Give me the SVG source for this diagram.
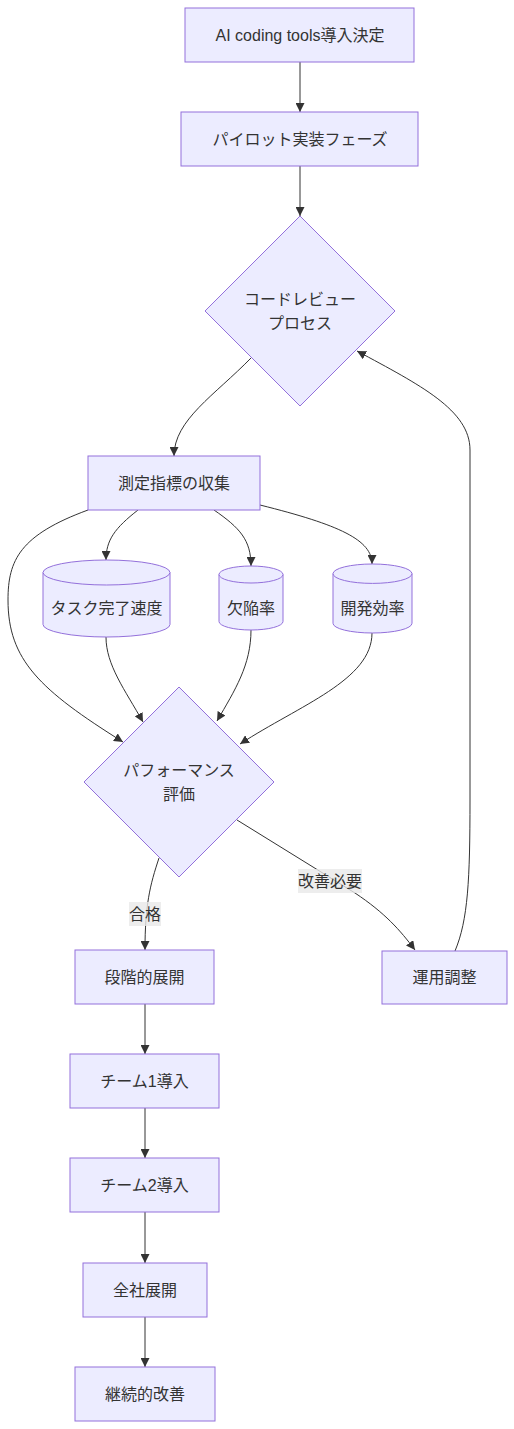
<svg xmlns="http://www.w3.org/2000/svg" width="514" height="1429" viewBox="0 0 514 1429">
<style>
.n{fill:#ECECFF;stroke:#9370DB;stroke-width:1}
.t{font-family:"Liberation Sans","Noto Sans CJK JP",sans-serif;font-size:16px;fill:#333;text-anchor:middle;dominant-baseline:central}
.e{fill:none;stroke:#333;stroke-width:1}
.lb{fill:#e8e8e8;opacity:0.8}
</style>
<defs>
<marker id="ah" viewBox="0 0 10 10" refX="10" refY="5" markerWidth="9" markerHeight="9" markerUnits="userSpaceOnUse" orient="auto">
<path d="M0,0 L10,5 L0,10 z" fill="#333"/>
</marker>
</defs>
<rect width="514" height="1429" fill="#fff"/>
<g id="edges" marker-end="url(#ah)">
<path class="e" d="M300,62 L300,112"/>
<path class="e" d="M300,166 L300,216"/>
<path class="e" d="M251,358 C215,395 174,420 174,456"/>
<path class="e" d="M138,510 C115,528 106,540 106,560"/>
<path class="e" d="M214,510 C240,528 251,540 251,566"/>
<path class="e" d="M260,505 C340,525 372,540 372,564"/>
<path class="e" d="M88,510 C20,535 8,560 8,600 C8,660 40,690 123,742"/>
<path class="e" d="M106,637 C106,665 125,690 143,722"/>
<path class="e" d="M251,630 C251,665 235,690 217,721"/>
<path class="e" d="M372,633 C372,680 300,705 240,744"/>
<path class="e" d="M159,858 C150,885 145,905 145,950"/>
<path class="e" d="M237,820 L355,893 C385,913 400,930 415,950"/>
<path class="e" d="M455,951 C468,920 470,880 470,800 L470,450 C470,410 420,385 357,351"/>
<path class="e" d="M145,1004 L145,1054"/>
<path class="e" d="M145,1108 L145,1158"/>
<path class="e" d="M145,1212 L145,1263"/>
<path class="e" d="M145,1317 L145,1367"/>
</g>
<g id="edge-labels">
<rect class="lb" x="129" y="902" width="32" height="24"/>
<text class="t" x="145" y="914">合格</text>
<rect class="lb" x="298" y="869" width="64" height="24"/>
<text class="t" x="330" y="881">改善必要</text>
</g>
<g id="n1"><rect class="n" x="185" y="8" width="229" height="54"/><text class="t" x="300" y="35">AI coding tools導入決定</text></g>
<g id="n2"><rect class="n" x="181" y="112" width="237" height="54"/><text class="t" x="300" y="139">パイロット実装フェーズ</text></g>
<g id="n3"><polygon class="n" points="300,216 395,311 300,406 205,311"/><text class="t" x="300" y="299">コードレビュー</text><text class="t" x="300" y="323">プロセス</text></g>
<g id="n4"><rect class="n" x="88" y="456" width="172" height="54"/><text class="t" x="174" y="483">測定指標の収集</text></g>
<g id="n5"><path class="n" d="M43,572.5 A63.5,12.5 0 0 1 170,572.5 L170,624.5 A63.5,12.5 0 0 1 43,624.5 Z"/><path class="n" fill="none" d="M43,572.5 A63.5,12.5 0 0 0 170,572.5"/><text class="t" x="106.5" y="608">タスク完了速度</text></g>
<g id="n6"><path class="n" d="M219,574.5 A32,8.5 0 0 1 283,574.5 L283,621.5 A32,8.5 0 0 1 219,621.5 Z"/><path class="n" fill="none" d="M219,574.5 A32,8.5 0 0 0 283,574.5"/><text class="t" x="251" y="608">欠陥率</text></g>
<g id="n7"><path class="n" d="M333,573.7 A39.5,9.7 0 0 1 412,573.7 L412,623.3 A39.5,9.7 0 0 1 333,623.3 Z"/><path class="n" fill="none" d="M333,573.7 A39.5,9.7 0 0 0 412,573.7"/><text class="t" x="372.5" y="608">開発効率</text></g>
<g id="n8"><polygon class="n" points="179,687 274,782 179,877 84,782"/><text class="t" x="179" y="770">パフォーマンス</text><text class="t" x="179" y="794">評価</text></g>
<g id="n9"><rect class="n" x="75" y="950" width="139" height="54"/><text class="t" x="144.5" y="977">段階的展開</text></g>
<g id="n10"><rect class="n" x="382" y="951" width="125" height="53"/><text class="t" x="444.5" y="977.5">運用調整</text></g>
<g id="n11"><rect class="n" x="70" y="1054" width="149" height="54"/><text class="t" x="144.5" y="1081">チーム1導入</text></g>
<g id="n12"><rect class="n" x="70" y="1158" width="149" height="54"/><text class="t" x="144.5" y="1185">チーム2導入</text></g>
<g id="n13"><rect class="n" x="83" y="1263" width="124" height="54"/><text class="t" x="145" y="1290">全社展開</text></g>
<g id="n14"><rect class="n" x="75" y="1367" width="140" height="54"/><text class="t" x="145" y="1394">継続的改善</text></g>
</svg>
